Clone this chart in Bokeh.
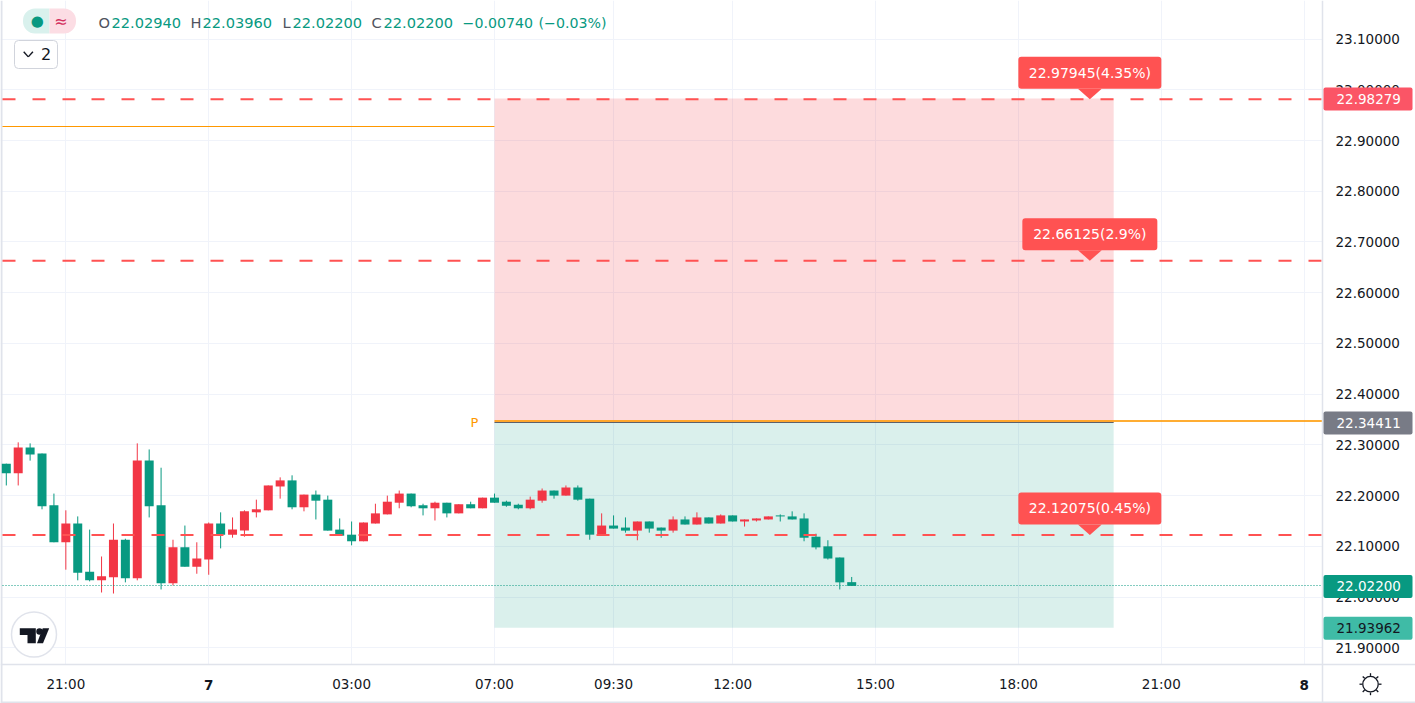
import math
from bokeh.embed import file_html
from bokeh.resources import INLINE
from bokeh.plotting import figure
from bokeh.models import FixedTicker, LinearAxis, Grid, Range1d
from bokeh.core.properties import value

# ---------------- data ----------------
opens = [22.263,22.244,22.295,22.283,22.181,22.108,22.145,22.050,22.033,22.039,22.113,22.037,22.269,22.181,22.027,22.098,22.060,22.074,22.145,22.123,
         22.131,22.167,22.171,22.218,22.230,22.177,22.202,22.192,22.133,22.123,22.110,22.145,22.163,22.186,22.204,22.181,22.175,22.186,22.165,22.183,
         22.175,22.196,22.188,22.182,22.175,22.190,22.210,22.200,22.216,22.194,22.123,22.141,22.137,22.131,22.149,22.137,22.131,22.153,22.143,22.157,
         22.145,22.161,22.149,22.151,22.153,22.161,22.159,22.155,22.119,22.100,22.078,22.0294]
highs = [22.263,22.305,22.303,22.283,22.204,22.171,22.159,22.133,22.080,22.145,22.115,22.303,22.291,22.255,22.113,22.141,22.108,22.147,22.167,22.157,
         22.171,22.192,22.220,22.236,22.240,22.202,22.210,22.200,22.155,22.149,22.147,22.184,22.200,22.210,22.204,22.184,22.188,22.186,22.183,22.188,
         22.196,22.204,22.190,22.184,22.198,22.214,22.210,22.220,22.220,22.194,22.165,22.161,22.157,22.149,22.149,22.137,22.159,22.159,22.167,22.157,
         22.163,22.161,22.153,22.155,22.159,22.163,22.169,22.165,22.125,22.112,22.078,22.0396]
lows = [22.220,22.220,22.269,22.173,22.108,22.054,22.033,22.031,22.009,22.007,22.029,22.033,22.157,22.015,22.023,22.060,22.046,22.044,22.096,22.117,
        22.119,22.157,22.171,22.194,22.173,22.169,22.153,22.131,22.121,22.102,22.110,22.145,22.163,22.175,22.177,22.161,22.151,22.157,22.165,22.175,
        22.175,22.186,22.178,22.173,22.173,22.186,22.194,22.200,22.190,22.113,22.121,22.135,22.127,22.112,22.127,22.117,22.127,22.143,22.143,22.145,
        22.145,22.149,22.139,22.149,22.153,22.149,22.153,22.110,22.094,22.074,22.015,22.022]
closes = [22.244,22.295,22.281,22.179,22.108,22.145,22.048,22.033,22.041,22.113,22.037,22.269,22.179,22.027,22.098,22.060,22.076,22.145,22.123,22.133,
          22.169,22.173,22.220,22.230,22.177,22.202,22.190,22.131,22.121,22.110,22.147,22.165,22.188,22.204,22.179,22.175,22.186,22.165,22.183,22.175,
          22.196,22.186,22.180,22.175,22.192,22.210,22.200,22.216,22.192,22.123,22.141,22.135,22.131,22.149,22.135,22.131,22.153,22.143,22.157,22.145,
          22.161,22.149,22.153,22.155,22.159,22.159,22.153,22.117,22.098,22.076,22.029,22.022]

time_ticks = [5, 29, 41, 51, 61, 73, 85, 97]
time_labels = ["21:00", "03:00", "07:00", "09:30", "12:00", "15:00", "18:00", "21:00"]
day_ticks = [17, 109]
day_labels = ["7", "8"]
price_ticks = [21.9, 22.0, 22.1, 22.2, 22.3, 22.4, 22.5, 22.6, 22.7, 22.8, 22.9, 23.0, 23.1]

entry = 22.34411
stop = 22.98279
target = 21.93962
last = 22.022
prev_pivot = 22.9276
tp_levels = [22.97945, 22.66125, 22.12075]
tp_texts = ["22.97945(4.35%)", "22.66125(2.9%)", "22.12075(0.45%)"]
box_start, box_end = 41, 93
callout_x = 91

UP, DOWN = "#f23645", "#089981"
RED = "#ff5252"
ORANGE = "#ff9800"
GRID = "#f0f3fa"
BORDER = "#e0e3eb"
INK = "#131722"
FONT = "DejaVu Sans"

W, H = 1415, 703
x0, x1 = -0.487, 118.35
y0, y1 = 21.7902, 23.176
PX_X = (x1 - x0) / W
PX_Y = (y1 - y0) / H


def xd(px):
    return x0 + px * PX_X


def yd(py):
    return y1 - py * PX_Y


pane_l, pane_r = xd(2), xd(1322)
pane_b = yd(664)

p = figure(width=W, height=H, output_backend="svg", toolbar_location=None,
           x_range=Range1d(x0, x1), y_range=Range1d(y0, y1), x_axis_type=None, y_axis_type=None,
           min_border=0, outline_line_color=None, background_fill_color="white", border_fill_color="white")
p.grid.visible = False

all_x = sorted(time_ticks + day_ticks)
xax = LinearAxis(ticker=FixedTicker(ticks=all_x), fixed_location=pane_b,
                 major_label_overrides={**dict(zip(time_ticks, time_labels)), **{d: " " for d in day_ticks}})
yax = LinearAxis(ticker=FixedTicker(ticks=price_ticks), fixed_location=pane_r,
                 major_label_overrides={t: f"{t:.5f}" for t in price_ticks})
p.add_layout(xax, "below")
p.add_layout(yax, "right")
p.add_layout(Grid(dimension=0, ticker=FixedTicker(ticks=all_x), grid_line_color=GRID))
p.add_layout(Grid(dimension=1, ticker=FixedTicker(ticks=price_ticks), grid_line_color=GRID))
for ax in (xax, yax):
    ax.major_tick_line_color = None
    ax.minor_tick_line_color = None
    ax.axis_line_color = BORDER
    ax.axis_line_width = 1.5
    ax.major_label_text_color = INK
    ax.major_label_text_font = FONT
    ax.major_label_text_font_size = "13.5px"
xax.major_label_standoff = 5
yax.major_label_standoff = 7

# white panels over the grid, outside the pane
p.quad(left=[pane_r, x0], right=[x1, x1], bottom=[y0, y0], top=[y1, pane_b], fill_color="white", line_color=None)
# widget edge
p.quad(left=[x0, x0], right=[xd(2), x1], bottom=[y0, yd(702.5)], top=[y1, yd(701)], fill_color=BORDER, line_color=None)

# position boxes
p.quad(left=[box_start], right=[box_end], bottom=[entry], top=[stop],
       fill_color="#f23645", fill_alpha=0.18, line_color=None)
p.quad(left=[box_start], right=[box_end], bottom=[target], top=[entry],
       fill_color="#089981", fill_alpha=0.15, line_color=None)

# candles
idx = list(range(len(opens)))
colors = [UP if c >= o else DOWN for o, c in zip(opens, closes)]
p.segment(idx, lows, idx, highs, line_color=colors, line_width=1)
p.vbar(x=idx, width=0.756, bottom=[min(o, c) for o, c in zip(opens, closes)],
       top=[max(o, c) for o, c in zip(opens, closes)], fill_color=colors, line_color=None)

# level lines (nudged onto whole pixel rows)
p.segment([pane_l], [last + 0.4 * PX_Y], [pane_r], [last + 0.4 * PX_Y], line_color=DOWN, line_width=1, line_dash="1 2")
lv_draw = [lv + 0.9 * PX_Y for lv in tp_levels]
for lv in lv_draw:
    p.segment([pane_l], [lv], [pane_r], [lv], line_color=RED, line_width=2, line_dash="13 17 13 17 13 16")
p.segment([pane_l], [prev_pivot], [box_start], [prev_pivot], line_color=ORANGE, line_width=1)
p.segment([box_start], [entry + 1.5 * PX_Y], [pane_r], [entry + 1.5 * PX_Y], line_color=ORANGE, line_width=2, line_alpha=0.8)
p.segment([box_start], [entry], [box_end], [entry], line_color="#5d606b", line_width=1)

# callout pointers
tri_x = [[callout_x - 1, callout_x + 1, callout_x] for _ in lv_draw]
tri_y = [[lv + 10.5 * PX_Y, lv + 10.5 * PX_Y, lv] for lv in lv_draw]
p.patches(tri_x, tri_y, fill_color=RED, line_color=None)

# TradingView badge
p.scatter([xd(33.5)], [yd(634)], size=45, marker="circle", fill_color="white",
          line_color=BORDER, line_width=1.5, level="overlay")
logo_x = [[19.3, 35.3, 35.3, 27, 27, 19.3], [48.7, 42.2, 36.5, 42.5]]
logo_y = [[627.7, 627.7, 642.7, 642.7, 634.5, 634.5], [627.7, 627.7, 642.7, 642.7]]
p.patches([[xd(v) for v in r] for r in logo_x], [[yd(v) for v in r] for r in logo_y],
          fill_color=INK, line_color=None, level="overlay")
p.scatter([xd(39)], [yd(631)], size=6.5, marker="circle", fill_color=INK, line_color=None, level="overlay")

# legend pill
p.quad(left=[xd(22.5)], right=[xd(49)], bottom=[yd(33)], top=[yd(8)],
       fill_color="#d9f1ed", line_color=None, border_radius=(12, 0, 0, 12))
p.quad(left=[xd(49)], right=[xd(75.5)], bottom=[yd(33)], top=[yd(8)],
       fill_color="#fcdde4", line_color=None, border_radius=(0, 12, 12, 0))


def text_at(x, y, text, color=INK, size="14px", style="normal", align="left"):
    p.text(x=[x], y=[y], text=[text], text_color=color, text_font=value(FONT), text_font_size=size,
           text_font_style=style, text_align=align, text_baseline="middle", level="overlay")


# day labels on the time axis
for d, t in zip(day_ticks, day_labels):
    text_at(d, yd(684), t, size="13.5px", style="bold", align="center")


# price tags
def tag(price, bg, fg="white"):
    cy = price - 0.5 * PX_Y
    p.quad(left=[xd(1323)], right=[xd(1412)], bottom=[cy - 11.5 * PX_Y], top=[cy + 11.5 * PX_Y],
           fill_color=bg, line_color=None, border_radius=2, level="overlay")
    text_at(xd(1336), cy, f"{price:.5f}", color=fg, size="13.5px")


tag(stop, "#fb5566")
tag(entry, "#787b86")
tag(last, "#089981")
tag(target, "#3fbba6", fg=INK)

# callouts
callout_half = [71.5, 67.5, 71.5]
for lv, tx, hw in zip(lv_draw, tp_texts, callout_half):
    p.quad(left=[callout_x - hw * PX_X], right=[callout_x + hw * PX_X],
           bottom=[lv + 10.5 * PX_Y], top=[lv + 42.5 * PX_Y],
           fill_color=RED, line_color=None, border_radius=3, level="overlay")
    text_at(callout_x, lv + 26.5 * PX_Y, tx, color="white", size="14px", align="center")

# legend strip
text_at(xd(36.8), yd(20.5), "●", color=DOWN, size="15px", align="center")
text_at(xd(60.5), yd(20.5), "≈", color="#d32f5e", size="16px", align="center")
for px, s, c, fs in [(98, "O", "#50535e", "14.6px"), (111, "22.02940", DOWN, "14.6px"), (190, "H", "#50535e", "14.6px"),
                     (202, "22.03960", DOWN, "14.6px"), (282, "L", "#50535e", "14.6px"), (292, "22.02200", DOWN, "14.6px"),
                     (371, "C", "#50535e", "14.6px"), (383, "22.02200", DOWN, "14.6px"),
                     (462, "−0.00740", DOWN, "14.2px"), (538, "(−0.03%)", DOWN, "14.2px")]:
    text_at(xd(px), yd(22), s, color=c, size=fs)

# collapse button
p.quad(left=[xd(14)], right=[xd(57)], bottom=[yd(68)], top=[yd(40)], fill_color="white",
       line_color="#d1d4dc", line_width=1, border_radius=4, level="overlay")
p.segment([xd(23.2), xd(27.8)], [yd(51.2), yd(56.4)], [xd(27.8), xd(32.4)], [yd(56.4), yd(51.2)],
          line_color=INK, line_width=1.4, level="overlay")
text_at(xd(45.5), yd(53.5), "2", size="16px", align="center")

text_at(xd(474), yd(422), "P", color=ORANGE, size="13px", align="center")

# theme icon (sun) on the corner cell
sx, sy = 1370, 683.7
rays = [i * math.pi / 4 for i in range(8)]
p.segment([xd(sx + 8.3 * math.cos(a)) for a in rays], [yd(sy + 8.3 * math.sin(a)) for a in rays],
          [xd(sx + 11 * math.cos(a)) for a in rays], [yd(sy + 11 * math.sin(a)) for a in rays],
          line_color=INK, line_width=1.3, level="overlay")
p.scatter([xd(sx)], [yd(sy)], size=15.5, marker="circle", fill_color="white", line_color=INK,
          line_width=1.3, level="overlay")

open("out.html", "w").write(file_html(p, INLINE))
